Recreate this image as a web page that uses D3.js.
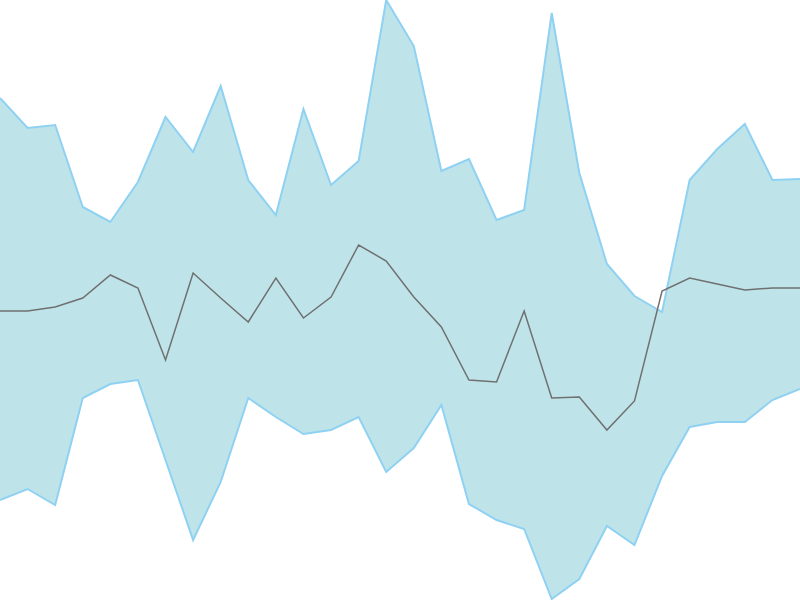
<!DOCTYPE html>
<html>
<head>
<meta charset="utf-8">
<script src="https://cdn.jsdelivr.net/npm/d3@7"></script>
<style>
  body { margin: 0; background: #fff; }
</style>
</head>
<body>
<div id="chart"></div>
<script>
// one value per step (higher = up)
let upper = [502, 472, 475, 393, 378, 418, 483, 448, 514, 420, 385, 491, 415, 439, 600, 554, 429, 441, 380, 390, 587, 427, 336, 304, 288, 420, 451, 476, 420, 421];
let middle = [289, 289, 293, 302, 325, 312, 240, 327, 302, 278, 322, 282, 303, 355, 339, 303, 273, 220, 218, 289, 202, 203, 170, 199, 309, 322, 316, 310, 312, 312];
let lower = [100, 111, 95, 202, 216, 220, 140, 60, 118, 202, 183, 166, 170, 183, 128, 152, 195, 96, 80, 71, 1, 21, 74, 55, 124, 173, 178, 178, 200, 211];

let width = 800,
  height = 600;

let svg = d3.select("#chart").append("svg")
  .attr("width", width)
  .attr("height", height);

let x = d3.scaleLinear()
  .domain([0, upper.length - 1])
  .range([0, width]);

let y = d3.scaleLinear()
  .domain([0, 600])
  .range([height, 0]);

let data = upper.map(function (d, i) {
  return {i: i, hi: d, mid: middle[i], lo: lower[i]};
});

let area = d3.area()
  .x(function (d) { return x(d.i); })
  .y0(function (d) { return y(d.lo); })
  .y1(function (d) { return y(d.hi); });

svg.append("path")
  .datum(data)
  .attr("d", area)
  .attr("fill", "#bee4ea")
  .attr("stroke", "none");

// band edges
["hi", "lo"].forEach(function (k) {
  svg.append("path")
    .datum(data)
    .attr("d", d3.line()
      .x(function (d) { return x(d.i); })
      .y(function (d) { return y(d[k]); }))
    .attr("fill", "none")
    .attr("stroke", "#8fd1f2")
    .attr("stroke-width", 2);
});

svg.append("path")
  .datum(data)
  .attr("d", d3.line()
    .x(function (d) { return x(d.i); })
    .y(function (d) { return y(d.mid); }))
  .attr("fill", "none")
  .attr("stroke", "#707070")
  .attr("stroke-width", 1.5);
</script>
</body>
</html>
